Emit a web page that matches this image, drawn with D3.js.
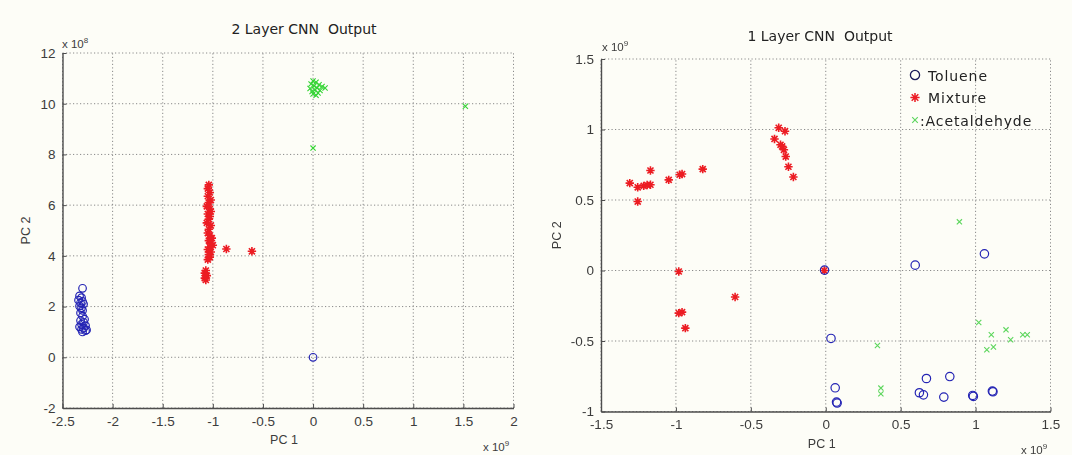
<!DOCTYPE html>
<html>
<head>
<meta charset="utf-8">
<script src="https://cdn.jsdelivr.net/npm/d3@7"></script>
<style>
  body { margin: 0; background: #fdfdf7; }
  svg { display: block; font-family: "Liberation Sans", Arial, sans-serif; }
</style>
</head>
<body>
<svg id="chart" width="1072" height="455"></svg>
<script>
// ---- left panel: 2 layer CNN (x in 1e9, y in 1e8)
var xTicks2 = [-2.5, -2, -1.5, -1, -0.5, 0, 0.5, 1, 1.5, 2];
var yTicks2 = [-2, 0, 2, 4, 6, 8, 10, 12];

var toluene2 = [
  [-2.30, 2.72], [-2.33, 2.42], [-2.31, 2.35], [-2.34, 2.25], [-2.30, 2.20], [-2.32, 2.15],
  [-2.29, 2.10], [-2.33, 2.02], [-2.31, 1.95], [-2.30, 1.85], [-2.32, 1.75], [-2.30, 1.62],
  [-2.28, 1.50], [-2.32, 1.45], [-2.29, 1.38], [-2.31, 1.30], [-2.27, 1.25], [-2.33, 1.20],
  [-2.29, 1.15], [-2.31, 1.10], [-2.27, 1.05], [-2.30, 1.00], [-2.26, 1.08], [0.0, 0.0]
];
var mixture2 = [
  [-1.04, 6.80], [-1.05, 6.65], [-1.03, 6.50], [-1.05, 6.35], [-1.02, 6.20], [-1.04, 6.10],
  [-1.06, 5.95], [-1.03, 5.85], [-1.02, 5.75], [-1.05, 5.65], [-1.03, 5.55], [-1.04, 5.45],
  [-1.06, 5.30], [-1.02, 5.20], [-1.04, 5.05], [-1.05, 4.90], [-1.03, 4.80], [-1.01, 4.70],
  [-1.04, 4.60], [-1.02, 4.50], [-1.00, 4.42], [-1.03, 4.35], [-1.05, 4.25], [-1.02, 4.15],
  [-1.04, 4.05], [-1.03, 3.95], [-1.05, 3.85], [-1.07, 3.42], [-1.08, 3.32], [-1.06, 3.22],
  [-1.08, 3.12], [-1.07, 3.05], [-0.865, 4.27], [-0.61, 4.18]
];
var acetaldehyde2 = [
  [0.00, 10.90], [0.03, 10.85], [-0.02, 10.78], [0.06, 10.75], [0.01, 10.70], [0.09, 10.68],
  [0.04, 10.62], [-0.03, 10.60], [0.12, 10.62], [0.02, 10.55], [0.07, 10.52], [-0.01, 10.48],
  [0.05, 10.42], [0.00, 10.38], [0.03, 10.33], [0.00, 8.25], [1.52, 9.90]
];

// ---- right panel: 1 layer CNN (x and y in 1e9)
var xTicks1 = [-1.5, -1, -0.5, 0, 0.5, 1, 1.5];
var yTicks1 = [-1, -0.5, 0, 0.5, 1, 1.5];

var toluene1 = [
  [0.597, 0.038], [1.059, 0.118], [0.035, -0.482], [0.063, -0.832], [0.072, -0.933], [0.076, -0.94],
  [0.672, -0.766], [0.828, -0.752], [0.625, -0.867], [0.652, -0.882], [0.788, -0.898],
  [0.981, -0.886], [0.985, -0.893], [1.112, -0.855], [1.116, -0.86], [-0.008, 0.003]
];
var mixture1 = [
  [-1.308, 0.620], [-1.255, 0.489], [-1.255, 0.590], [-1.215, 0.600], [-1.192, 0.606],
  [-1.170, 0.608], [-1.170, 0.709], [-1.048, 0.643], [-0.975, 0.679], [-0.959, 0.684],
  [-0.821, 0.719], [-0.314, 1.012], [-0.272, 0.988], [-0.342, 0.933], [-0.302, 0.892],
  [-0.291, 0.880], [-0.279, 0.856], [-0.267, 0.808], [-0.249, 0.736], [-0.216, 0.663],
  [-0.981, -0.007], [-0.981, -0.302], [-0.959, -0.295], [-0.937, -0.409], [-0.605, -0.188],
  [-0.010, 0.0]
];
var acetaldehyde1 = [
  [0.892, 0.345], [1.021, -0.369], [1.105, -0.456], [1.203, -0.421], [1.234, -0.491],
  [1.315, -0.456], [1.345, -0.456], [1.075, -0.562], [1.119, -0.543], [0.345, -0.532],
  [0.368, -0.834], [0.368, -0.875]
];

var legendLabels = ['Toluene', 'Mixture', ':Acetaldehyde'];

var svg = d3.select('#chart');

svg.append('defs').append('filter')
  .attr('id', 'soft')
  .append('feGaussianBlur')
  .attr('stdDeviation', 0.55);

function starPath(r) {
  var a = r * 0.72;
  return 'M' + (-r) + ',0L' + r + ',0M0,' + (-r) + 'L0,' + r +
    'M' + (-a) + ',' + (-a) + 'L' + a + ',' + a + 'M' + (-a) + ',' + a + 'L' + a + ',' + (-a);
}
function crossPath(r) {
  return 'M' + (-r) + ',' + (-r) + 'L' + r + ',' + r + 'M' + (-r) + ',' + r + 'L' + r + ',' + (-r);
}

function fmt(d) { return String(d); }

function drawPanel(p) {
  var x = d3.scaleLinear().domain(p.xDomain).range(p.xRange);
  var y = d3.scaleLinear().domain(p.yDomain).range(p.yRange);
  var g = svg.append('g');

  // dotted grid
  g.selectAll('.gx').data(p.xTicks).enter().append('line')
    .attr('x1', function(d) { return x(d); })
    .attr('x2', function(d) { return x(d); })
    .attr('y1', p.yRange[0]).attr('y2', p.yRange[1])
    .attr('stroke', '#8a8a8a').attr('stroke-width', 1)
    .attr('stroke-dasharray', '1.2,2.3');
  g.selectAll('.gy').data(p.yTicks).enter().append('line')
    .attr('y1', function(d) { return y(d); })
    .attr('y2', function(d) { return y(d); })
    .attr('x1', p.xRange[0]).attr('x2', p.xRange[1])
    .attr('stroke', '#8a8a8a').attr('stroke-width', 1)
    .attr('stroke-dasharray', '1.2,2.3');

  // axes
  var xAxis = g.append('g')
    .attr('transform', 'translate(0,' + p.yRange[0] + ')')
    .call(d3.axisBottom(x).tickValues(p.xTicks).tickFormat(fmt).tickSizeInner(-4).tickSizeOuter(0).tickPadding(8));
  var yAxis = g.append('g')
    .attr('transform', 'translate(' + p.xRange[0] + ',0)')
    .call(d3.axisLeft(y).tickValues(p.yTicks).tickFormat(fmt).tickSizeInner(-4).tickSizeOuter(0).tickPadding(7));
  [xAxis, yAxis].forEach(function(a) {
    a.select('.domain').attr('stroke', '#4d4d4d').attr('stroke-width', 1.4);
    a.selectAll('.tick line').attr('stroke', '#4d4d4d');
    a.selectAll('.tick text').attr('fill', '#3c3c3c').style('font-size', '13.5px')
      .style('font-family', '"Liberation Sans", Arial, sans-serif');
  });

  // title and labels
  g.append('text').attr('x', p.titleX).attr('y', p.titleY)
    .attr('text-anchor', 'middle').attr('fill', '#222')
    .style('font-family', '"DejaVu Sans", Verdana, sans-serif').style('font-size', '14px')
    .attr('xml:space', 'preserve')
    .text(p.title);
  g.append('text').attr('x', (p.xRange[0] + p.xRange[1]) / 2 - 4).attr('y', p.yRange[0] + 36)
    .attr('text-anchor', 'middle').attr('fill', '#3c3c3c').style('font-size', '12.5px')
    .text('PC 1');
  g.append('text')
    .attr('transform', 'translate(' + p.pc2X + ',' + ((p.yRange[0] + p.yRange[1]) / 2) + ') rotate(-90)')
    .attr('text-anchor', 'middle').attr('fill', '#3c3c3c').style('font-size', '12.5px')
    .text('PC 2');

  function expLabel(tx, ty, e) {
    var t = g.append('text').attr('x', tx).attr('y', ty).attr('fill', '#3c3c3c').style('font-size', '11.5px');
    t.append('tspan').text('x 10');
    t.append('tspan').attr('dy', -5).style('font-size', '8px').text(e);
  }
  expLabel(p.yExp[0], p.yExp[1], p.yExp[2]);
  expLabel(p.xExp[0], p.xExp[1], 9);

  // marks
  g.append('g').attr('filter', 'url(#soft)').selectAll('path').data(p.acetaldehyde).enter().append('path')
    .attr('transform', function(d) { return 'translate(' + x(d[0]) + ',' + y(d[1]) + ')'; })
    .attr('d', crossPath(2.6))
    .attr('fill', 'none').attr('stroke', p.greenColor).attr('stroke-width', 1.1);
  g.append('g').attr('filter', 'url(#soft)').selectAll('path').data(p.mixture).enter().append('path')
    .attr('transform', function(d) { return 'translate(' + x(d[0]) + ',' + y(d[1]) + ')'; })
    .attr('d', starPath(4.2))
    .attr('fill', 'none').attr('stroke', '#ec1c24').attr('stroke-width', 1.6);
  g.append('g').selectAll('circle').data(p.toluene).enter().append('circle')
    .attr('cx', function(d) { return x(d[0]); })
    .attr('cy', function(d) { return y(d[1]); })
    .attr('r', p.circleR)
    .attr('fill', 'none').attr('stroke', '#2424b4').attr('stroke-width', 1.2);

  return { x: x, y: y, g: g };
}

drawPanel({
  xDomain: [-2.5, 2], xRange: [62.5, 513.5],
  yDomain: [-2, 12], yRange: [408, 53],
  xTicks: xTicks2, yTicks: yTicks2,
  toluene: toluene2, mixture: mixture2, acetaldehyde: acetaldehyde2,
  circleR: 3.8, greenColor: '#33d433',
  title: '2 Layer CNN  Output', titleX: 304, titleY: 34,
  pc2X: 30, yExp: [62, 48, 8], xExp: [483, 451]
});

var right = drawPanel({
  xDomain: [-1.5, 1.5], xRange: [601, 1050.5],
  yDomain: [-1, 1.5], yRange: [411.5, 59],
  xTicks: xTicks1, yTicks: yTicks1,
  toluene: toluene1, mixture: mixture1, acetaldehyde: acetaldehyde1,
  circleR: 4.2, greenColor: '#5cd65c',
  title: '1 Layer CNN  Output', titleX: 820, titleY: 41,
  pc2X: 561, yExp: [602, 51, 9], xExp: [1021, 454]
});

// legend (no box)
var leg = right.g.append('g').attr('transform', 'translate(915,75)');
legendLabels.forEach(function(lab, i) {
  var row = leg.append('g').attr('transform', 'translate(0,' + (i * 22.5) + ')');
  if (i === 0) {
    row.append('circle').attr('r', 4.6).attr('fill', 'none').attr('stroke', '#1c1c5c').attr('stroke-width', 1.3);
  } else if (i === 1) {
    row.append('path').attr('d', starPath(4.6)).attr('fill', 'none').attr('stroke', '#ec1c24').attr('stroke-width', 1.5);
  } else {
    row.append('path').attr('d', crossPath(2.8)).attr('fill', 'none').attr('stroke', '#5cd65c').attr('stroke-width', 1.1);
  }
  row.append('text').attr('x', i === 2 ? 5 : 13).attr('y', 5.5)
    .attr('fill', '#222')
    .style('font-family', '"DejaVu Sans", Verdana, sans-serif').style('font-size', '14px')
    .style('letter-spacing', '0.9px')
    .text(lab);
});
</script>
</body>
</html>
